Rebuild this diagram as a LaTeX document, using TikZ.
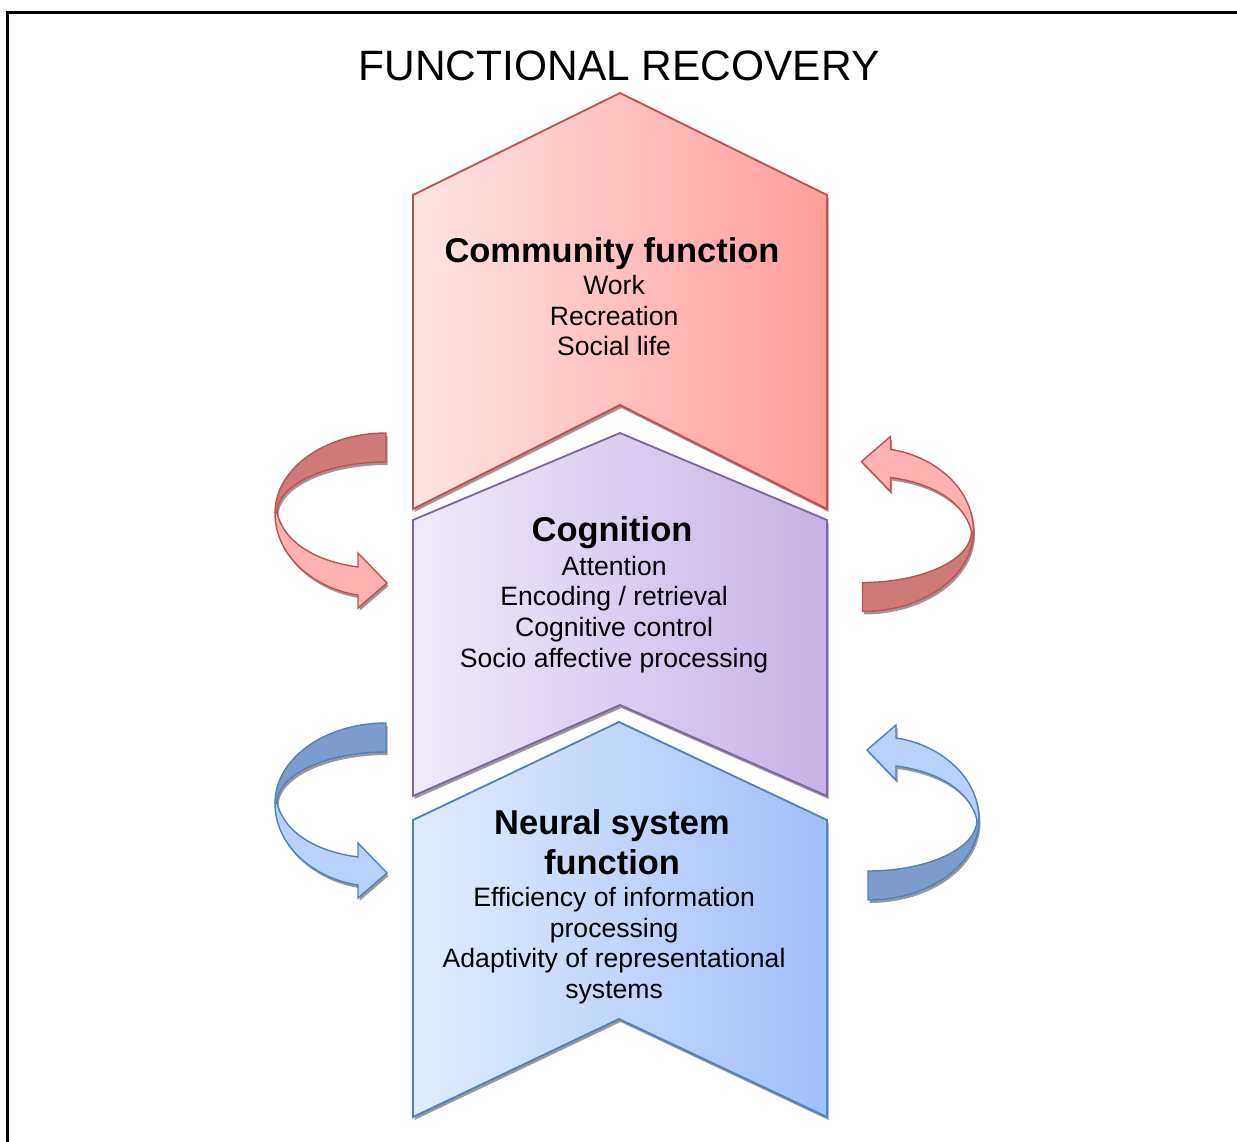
\documentclass[tikz,border=0pt]{standalone}
\usepackage{fontspec}
\setmainfont{Liberation Sans}
\usepackage{tikz}
\usetikzlibrary{positioning}

\definecolor{redline}{RGB}{192,80,77}
\definecolor{redleft}{RGB}{255,228,228}
\definecolor{redright}{RGB}{255,158,155}
\definecolor{reddark}{RGB}{205,122,121}
\definecolor{redlight}{RGB}{255,178,178}
\definecolor{purpleline}{RGB}{128,100,162}
\definecolor{purpleleft}{RGB}{240,234,248}
\definecolor{purpleright}{RGB}{198,178,230}
\definecolor{blueline}{RGB}{79,129,189}
\definecolor{blueleft}{RGB}{226,236,255}
\definecolor{blueright}{RGB}{160,192,250}
\definecolor{bluedark}{RGB}{124,157,205}
\definecolor{bluelight}{RGB}{184,210,252}

% ribbon arrow: #1 back colour, #2 front colour, #3 border, #4 shadow offset
\newcommand{\ribbon}[4]{%
  \fill[black!40, shift={#4}] (0,0) .. controls (-61.3,0) and (-111,35.8) .. (-111,80)
    .. controls (-111,127) and (-66,157) .. (-28,162) -- (-28,175) -- (1,150) -- (-28,120) -- (-28,134)
    .. controls (-66,129) and (-101,112) .. (-109,80) .. controls (-109,51.8) and (-60.2,29) .. (0,29) -- cycle;
  \filldraw[fill=#1, draw=#3, line width=1pt] (0,0) .. controls (-61.3,0) and (-111,35.8) .. (-111,80)
    -- (-109,80) .. controls (-109,51.8) and (-60.2,29) .. (0,29) -- cycle;
  \filldraw[fill=#2, draw=#3, line width=1pt] (-111,80) .. controls (-111,127) and (-66,157) .. (-28,162)
    -- (-28,175) -- (1,150) -- (-28,120) -- (-28,134)
    .. controls (-66,129) and (-101,112) .. (-109,80) -- cycle;
}

\begin{document}
\begin{tikzpicture}[x=0.025cm, y=-0.025cm, line join=miter]
        % Define block styles
        \tikzstyle{chevron} = [draw, line width=1.3pt]
        \tikzstyle{shadow} = [fill=black!40, shift={(1.5,3)}]
        \tikzstyle{head} = [font=\bfseries\fontsize{24.5}{28.5}\selectfont, align=center, inner sep=0pt, anchor=north]
        \tikzstyle{items} = [font=\fontsize{18.9}{21.7}\selectfont, align=center, inner sep=0pt]

        \useasboundingbox (0,0) rectangle (1237,1142);

        % Frame
        \draw[line width=2.2pt] (7.5,1142) -- (7.5,12.5) -- (1237,12.5);

        % Chevrons
        \fill[shadow] (413,195) -- (620,93) -- (827,195) -- (827,509) -- (620,405) -- (413,509) -- cycle;
        \path[chevron, draw=redline, left color=redleft, right color=redright]
            (413,195) -- (620,93) -- (827,195) -- (827,509) -- (620,405) -- (413,509) -- cycle;
        \fill[shadow] (413,520) -- (620,433) -- (827,520) -- (827,796) -- (620,705) -- (413,796) -- cycle;
        \path[chevron, draw=purpleline, left color=purpleleft, right color=purpleright]
            (413,520) -- (620,433) -- (827,520) -- (827,796) -- (620,705) -- (413,796) -- cycle;
        \fill[shadow] (413,820) -- (619,722) -- (827,820) -- (827,1117) -- (619,1019) -- (413,1117) -- cycle;
        \path[chevron, draw=blueline, left color=blueleft, right color=blueright]
            (413,820) -- (619,722) -- (827,820) -- (827,1117) -- (619,1019) -- (413,1117) -- cycle;

        % Curved arrows
        \begin{scope}[shift={(386,433)}]
            \ribbon{reddark}{redlight}{redline}{(1.5,3)}
        \end{scope}
        \begin{scope}[shift={(862.5,611.5)}, rotate=180]
            \ribbon{reddark}{redlight}{redline}{(-1.5,-3)}
        \end{scope}
        \begin{scope}[shift={(386,723)}]
            \ribbon{bluedark}{bluelight}{blueline}{(1.5,3)}
        \end{scope}
        \begin{scope}[shift={(868,900)}, rotate=180]
            \ribbon{bluedark}{bluelight}{blueline}{(-1.5,-3)}
        \end{scope}

        % Place nodes
        \node[font=\fontsize{30.2}{36}\selectfont, inner sep=0pt, anchor=base] (title) at (619,81) {FUNCTIONAL RECOVERY};
        \node[head] (community) at (612,237.5) {Community function};
        \node[items, below=0.125cm of community, xshift=1.5] (communitylist) {Work\\Recreation\\Social life};
        \node[head] (cognition) at (612,516.5) {Cognition};
        \node[items, below=0.165cm of cognition, xshift=1.5] (cognitionlist) {Attention\\Encoding / retrieval\\Cognitive control\\Socio affective processing};
        \node[head] (neural) at (612,809.5) {Neural system\\function};
        \node[items, below=0.29cm of neural, xshift=1.5] (neurallist) {Efficiency of information\\processing\\Adaptivity of representational\\systems};
    \end{tikzpicture}
\end{document}
